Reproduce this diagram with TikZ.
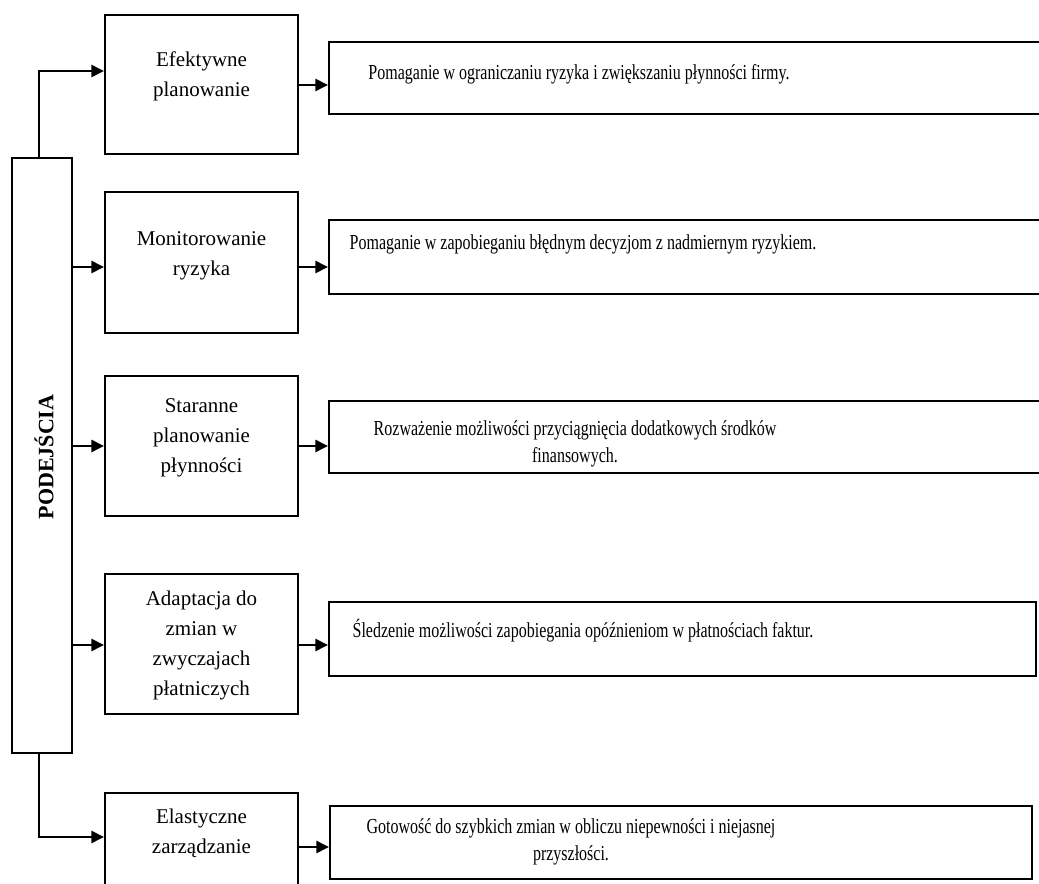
\documentclass[tikz,border=0pt]{standalone}
\usepackage{fontspec}
\setmainfont{Liberation Serif}
\newfontfamily\condserif{Liberation Serif}[FakeStretch=0.75]
\usetikzlibrary{arrows.meta}
\begin{document}
\begin{tikzpicture}[x=0.75pt,y=-0.75pt,
  box/.style={draw, line width=1.5pt, rectangle, inner sep=0pt},
  lbox/.style={box, minimum width=144.75pt, minimum height=105pt},
  rbox/.style={box, minimum width=534.75pt},
  ltxt/.style={align=center, anchor=base, inner sep=0pt, font=\fontsize{15.75}{22.5}\selectfont},
  rtxt/.style={align=center, anchor=base, inner sep=0pt, font=\condserif\fontsize{16}{20.25}\selectfont},
  conn/.style={line width=1.9pt, -{Triangle[length=9.5pt,width=9pt]}}]
\fill[white] (0,0) rectangle (1039,884);
\useasboundingbox (0,0) rectangle (1039,884);
% main vertical box
\node[box, minimum width=45pt, minimum height=446.25pt] (p) at (42,455.5) {};
\node[rotate=90, inner sep=0pt, font=\bfseries\fontsize{16.5}{20}\selectfont] (pt) at (44,457) {PODEJŚCIA};
% left boxes
\node[lbox, minimum height=104.25pt] (b1) at (201.5,84.5) {};
\node[lbox, minimum height=105.75pt] (b2) at (201.5,262.5) {};
\node[lbox] (b3) at (201.5,446) {};
\node[lbox] (b4) at (201.5,644) {};
\node[lbox] (b5) at (201.5,863) {};
% (base anchor = baseline of the last line)
\node[ltxt] (t1) at (201.5,97) {Efektywne\\planowanie};
\node[ltxt] (t2) at (201.5,276) {Monitorowanie\\ryzyka};
\node[ltxt] (t3) at (201.5,472) {Staranne\\planowanie\\płynności};
\node[ltxt] (t4) at (201.5,695) {Adaptacja do\\zmian w\\zwyczajach\\płatniczych};
\node[ltxt] (t5) at (201.5,853) {Elastyczne\\zarządzanie};
% right boxes
\node[rbox, minimum height=54pt] (r1) at (685.5,78) {};
\node[rbox, minimum height=55.5pt] (r2) at (685.5,257) {};
\node[rbox, minimum height=54pt] (r3) at (685.5,437) {};
\node[rbox, minimum width=530.25pt, minimum height=55.5pt] (r4) at (682.5,639) {};
\node[rbox, minimum width=526.5pt, minimum height=54.75pt] (r5) at (681,842.5) {};
\node[rtxt] (s1) at (579,80) {Pomaganie w ograniczaniu ryzyka i zwiększaniu płynności firmy.};
\node[rtxt] (s2) at (583,250) {Pomaganie w zapobieganiu błędnym decyzjom z nadmiernym ryzykiem.};
\node[rtxt] (s3) at (575,462) {Rozważenie możliwości przyciągnięcia dodatkowych środków\\finansowych.};
\node[rtxt] (s4) at (583,637) {Śledzenie możliwości zapobiegania opóźnieniom w płatnościach faktur.};
\node[rtxt] (s5) at (571,860) {Gotowość do szybkich zmian w obliczu niepewności i niejasnej\\przyszłości.};
% arrow heights
\coordinate (yt) at (0,71);
\coordinate (yb) at (0,837);
\coordinate (l2) at (0,267);
\coordinate (l3) at (0,446);
\coordinate (l4) at (0,645);
\coordinate (a1) at (0,85);
\coordinate (a2) at (0,267);
\coordinate (a3) at (0,446);
\coordinate (a4) at (0,645);
\coordinate (a5) at (0,847);
% connectors from PODEJSCIA
\draw[conn] ([xshift=-2.25pt]p.north) -- ([xshift=-2.25pt]p.north |- yt) -- (b1.west |- yt);
\draw[conn] (p.east |- l2) -- (b2.west |- l2);
\draw[conn] (p.east |- l3) -- (b3.west |- l3);
\draw[conn] (p.east |- l4) -- (b4.west |- l4);
\draw[conn] ([xshift=-2.25pt]p.south) -- ([xshift=-2.25pt]p.south |- yb) -- (b5.west |- yb);
% connectors to right boxes
\draw[conn] (b1.east |- a1) -- (r1.west |- a1);
\draw[conn] (b2.east |- a2) -- (r2.west |- a2);
\draw[conn] (b3.east |- a3) -- (r3.west |- a3);
\draw[conn] (b4.east |- a4) -- (r4.west |- a4);
\draw[conn] (b5.east |- a5) -- (r5.west |- a5);
\end{tikzpicture}
\end{document}
